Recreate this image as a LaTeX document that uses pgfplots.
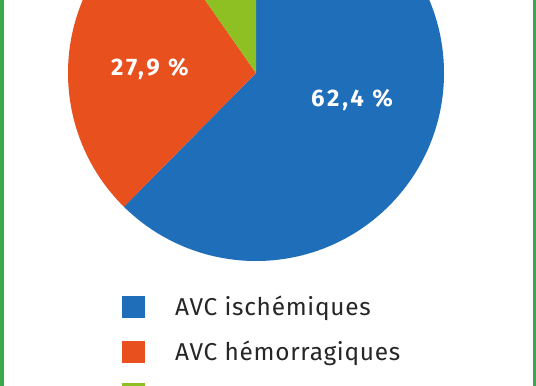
\documentclass[border=0pt]{standalone}
\usepackage{pgfplots}
\pgfplotsset{compat=1.18}
\usepackage{pgfplotstable}
\usepackage{fontspec}
\setmainfont{Fira Sans}
\newfontfamily\labfont[LetterSpace=12]{Fira Sans}
\newfontfamily\legfont[LetterSpace=3]{Fira Sans}
\definecolor{cblue}{HTML}{1E6EBA}
\definecolor{corange}{HTML}{E8501E}
\definecolor{cgreen}{HTML}{8EC024}
\definecolor{cborder}{HTML}{3CA84B}
\pgfplotstableread[col sep=comma]{
label,value
AVC ischémiques,62.4
AVC hémorragiques,27.9
AVC indéterminés,9.7
}\piedata
\begin{document}
\begin{tikzpicture}
\pgfplotstablegetelem{0}{value}\of\piedata \pgfmathsetmacro{\va}{\pgfplotsretval}
\pgfplotstablegetelem{1}{value}\of\piedata \pgfmathsetmacro{\vb}{\pgfplotsretval}
\pgfplotstablegetelem{2}{value}\of\piedata \pgfmathsetmacro{\vc}{\pgfplotsretval}
\pgfplotstablegetelem{0}{label}\of\piedata \edef\la{\pgfplotsretval}
\pgfplotstablegetelem{1}{label}\of\piedata \edef\lb{\pgfplotsretval}
\pgfmathsetmacro{\aone}{90-3.6*\va}
\pgfmathsetmacro{\atwo}{\aone-3.6*\vb}
\pgfmathsetmacro{\athree}{\atwo-3.6*\vc}
\path[use as bounding box] (0,0) rectangle (536bp,386bp);
\clip (0,0) rectangle (536bp,386bp);
\fill[white] (0,0) rectangle (536bp,386bp);
\begin{axis}[x=1bp,y=1bp,xmin=0,xmax=536,ymin=0,ymax=386,hide axis,clip=false,
  at={(0,0)},anchor=origin]
\fill[cblue] (axis cs:256,313) -- (axis cs:256,501) arc[start angle=90,end angle=\aone,radius=188bp] -- cycle;
\fill[corange] (axis cs:256,313) -- ++(\aone:188bp) arc[start angle=\aone,end angle=\atwo,radius=188bp] -- cycle;
\fill[cgreen] (axis cs:256,313) -- ++(\atwo:188bp) arc[start angle=\atwo,end angle=\athree,radius=188bp] -- cycle;
\node[white,font=\labfont\bfseries\fontsize{24}{26}\selectfont] at (axis cs:352,286) {62,4~\%};
\node[white,font=\labfont\bfseries\fontsize{24}{26}\selectfont] at (axis cs:150,317) {27,9~\%};
\fill[cblue] (axis cs:122,68) rectangle (axis cs:145,90);
\fill[corange] (axis cs:122,23) rectangle (axis cs:145,45);
\fill[cgreen] (axis cs:122,-20) rectangle (axis cs:145,3);
\node[anchor=base west,inner sep=0pt,text=black!85,font=\legfont\fontsize{24.5}{27}\selectfont] at (axis cs:175,71) {\la};
\node[anchor=base west,inner sep=0pt,text=black!85,font=\legfont\fontsize{24.5}{27}\selectfont] at (axis cs:175,26) {\lb};
\end{axis}
\fill[cborder] (0,0) rectangle (3.5bp,386bp);
\fill[cborder] (532.5bp,0) rectangle (536bp,386bp);
\end{tikzpicture}
\end{document}
